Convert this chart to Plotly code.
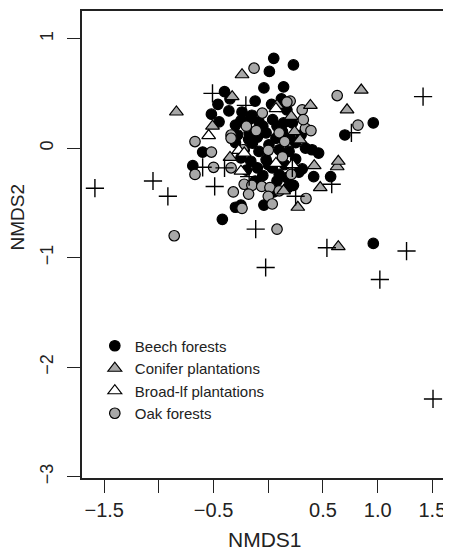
import plotly.graph_objects as go

# ---- data (NMDS scores) ----
beech_x = [0.01, 0.23, 0.05, -0.04, 0.14, -0.40, -0.46, -0.36, -0.52, -0.45, -0.12, -0.24, 0.11, 0.17,
           -0.175, -0.30, -0.085, 0.04, 0.14, 0.22, -0.28, -0.175, -0.02, 0.07, 0.20, -0.145, 0.006,
           -0.22, -0.085, 0.10, 0.19, 0.34, 0.40, 0.46, -0.60, -0.69, -0.25, -0.16, -0.02, -0.10, 0.036,
           0.10, 0.17, 0.31, 0.415, 0.57, 0.23, 0.08, -0.30, -0.25, -0.04, -0.42, 0.70, 0.96, 0.96,
           -0.30, -0.05, 0.13, -0.20, 0.25, -0.10, 0.05, -0.35, 0.18, 0.30,
           -0.05, 0.08, -0.15, 0.00, 0.15, -0.12, 0.25, -0.25, 0.12, -0.18, 0.28, 0.03]
beech_y = [0.70, 0.76, 0.82, 0.55, 0.56, 0.515, 0.40, 0.34, 0.31, 0.24, 0.43, 0.33, 0.38, 0.35,
           0.26, 0.21, 0.24, 0.26, 0.23, 0.23, 0.12, 0.14, 0.14, 0.09, 0.09, 0.045, 0.03,
           -0.015, -0.03, -0.015, -0.03, 0.0, -0.015, -0.045, -0.036, -0.16, -0.09, -0.12, -0.105, -0.18, -0.18,
           -0.24, -0.27, -0.19, -0.26, -0.26, -0.34, -0.30, -0.54, -0.52, -0.52, -0.65, 0.12, 0.23, -0.87,
           0.05, -0.25, 0.15, -0.20, -0.10, 0.10, -0.40, 0.45, -0.36, 0.12,
           0.20, 0.20, 0.30, -0.15, -0.15, -0.30, 0.05, 0.25, 0.45, 0.08, -0.22, 0.40]

oak_x = [-0.13, 0.63, 0.20, 0.31, 0.34, 0.39, -0.055, 0.10, -0.11, -0.34, -0.67, -0.52, 0.15, -0.23,
         -0.67, -0.50, -0.34, 0.13, 0.21, -0.22, -0.15, -0.06, 0.015, -0.18, -0.32, 0.0, 0.036, -0.24,
         0.345, 0.08, -0.86, 0.82, 0.32, 0.17, -0.34, 0.10, -0.20, 0.00]
oak_y = [0.73, 0.48, 0.43, 0.35, 0.18, 0.16, 0.32, 0.14, 0.16, 0.12, 0.06, -0.036, 0.06, -0.015,
         -0.24, -0.175, -0.18, -0.08, -0.24, -0.33, -0.34, -0.35, -0.36, -0.42, -0.40, -0.44, -0.51, -0.55,
         -0.46, -0.74, -0.80, 0.21, 0.26, 0.42, 0.09, -0.39, 0.20, -0.02]

conifer_x = [-0.84, -0.24, -0.33, 0.385, 0.72, 0.85, -0.51, 0.24, 0.21, 0.08, 0.29, -0.35, 0.42, 0.63,
             0.475, 0.14, 0.27, 0.64, 0.64]
conifer_y = [0.33, 0.67, 0.47, 0.39, 0.35, 0.53, 0.20, 0.15, 0.29, 0.39, 0.075, -0.085, -0.16, -0.17,
             -0.36, -0.39, -0.54, -0.12, -0.90]

broad_x = [-0.545, 0.07, -0.27, -0.25, -0.22, 0.07, 0.22]
broad_y = [0.115, 0.36, -0.02, -0.21, -0.045, -0.14, -0.15]

other_x = [-1.585, -1.054, -0.918, -0.49, -0.51, -0.115, -0.024, 0.536, 1.264, 1.02, 1.415, 0.58, 0.76,
           1.506, -0.60, -0.175, 0.25, -0.205, 0.22, -0.40]
other_y = [-0.366, -0.30, -0.44, -0.35, 0.50, -0.74, -1.09, -0.91, -0.94, -1.20, 0.47, -0.33, 0.14,
           -2.29, -0.175, -0.26, -0.44, 0.39, -0.18, -0.18]

x_tickvals = [-1.5, -1.0, -0.5, 0.0, 0.5, 1.0, 1.5]
x_ticktext = ["\u22121.5", "", "\u22120.5", "", "0.5", "1.0", "1.5"]
y_tickvals = [-3, -2, -1, 0, 1]
y_ticktext = ["\u22123", "\u22122", "\u22121", "0", "1"]

GREY = "#a8a8a8"
LINE = dict(color="black", width=1.2)
FONT = "Liberation Sans, Arial, Helvetica, sans-serif"
INK = "#222222"

fig = go.Figure()
fig.add_trace(go.Scatter(x=beech_x, y=beech_y, mode="markers", name="Beech forests", legendrank=1,
                         marker=dict(symbol="circle", size=10.5, color="black", line=LINE)))
fig.add_trace(go.Scatter(x=oak_x, y=oak_y, mode="markers", name="Oak forests", legendrank=4,
                         marker=dict(symbol="circle", size=10.5, color=GREY, line=LINE)))
fig.add_trace(go.Scatter(x=conifer_x, y=conifer_y, mode="markers", name="Conifer plantations", legendrank=2,
                         marker=dict(symbol="triangle-up", size=12, color=GREY, line=LINE)))
fig.add_trace(go.Scatter(x=broad_x, y=broad_y, mode="markers", name="Broad-lf plantations", legendrank=3,
                         marker=dict(symbol="triangle-up", size=12, color="white", line=LINE)))
fig.add_trace(go.Scatter(x=other_x, y=other_y, mode="markers", showlegend=False,
                         marker=dict(symbol="cross-thin", size=13, color="black",
                                     line=dict(color="black", width=1.4))))

fig.update_layout(
    width=443, height=543,
    margin=dict(l=74, r=1, t=1, b=73),
    plot_bgcolor="white", paper_bgcolor="white",
    font=dict(family=FONT, color="black"),
    showlegend=True,
    legend=dict(x=0.035, y=0.318, xanchor="left", yanchor="top", bgcolor="rgba(0,0,0,0)",
                borderwidth=0, font=dict(size=15, family=FONT, color=INK),
                itemsizing="trace"),
    xaxis=dict(range=[-1.703, 1.643], tickvals=x_tickvals, ticktext=x_ticktext,
               ticks="outside", ticklen=13, tickwidth=1.3, tickcolor=INK,
               showline=True, linecolor=INK, linewidth=1.5, mirror=True,
               showgrid=False, zeroline=False, tickfont=dict(size=20, family=FONT, color=INK)),
    yaxis=dict(range=[-3.012, 1.252], tickvals=y_tickvals, ticktext=y_ticktext,
               ticks="outside", ticklen=13, tickwidth=1.3, tickcolor=INK,
               showline=True, linecolor=INK, linewidth=1.5, mirror=True,
               showgrid=False, zeroline=False, tickangle=-90, ticklabelstandoff=7,
               tickfont=dict(size=18, family=FONT, color=INK)),
    annotations=[
        dict(text="NMDS1", xref="paper", yref="paper", x=0.5, y=-0.132, yanchor="middle",
             showarrow=False, font=dict(size=21, family=FONT, color=INK)),
        dict(text="NMDS2", xref="paper", yref="paper", x=-0.175, y=0.56, xanchor="center",
             yanchor="middle", textangle=-90, showarrow=False,
             font=dict(size=19, family=FONT, color=INK)),
    ],
)

fig.write_html("out.html")
